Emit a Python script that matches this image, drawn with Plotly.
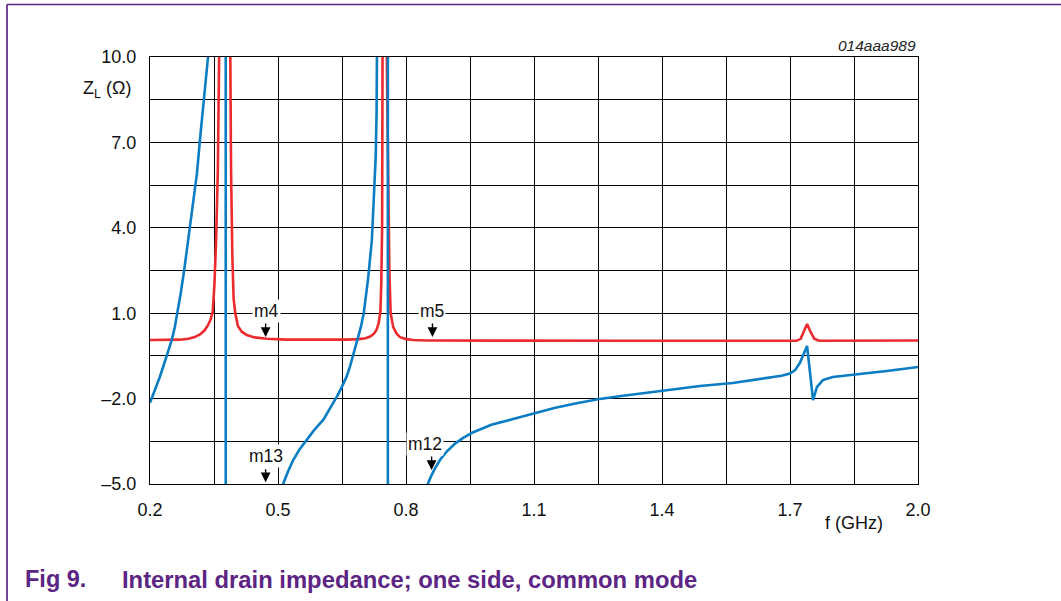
import plotly.graph_objects as go

# ---- data -----------------------------------------------------------------
# Frequency axis grid / tick labels (GHz)
x_grid = [0.2, 0.35, 0.5, 0.65, 0.8, 0.95, 1.1, 1.25, 1.4, 1.55, 1.7, 1.85, 2.0]
x_labels = ["0.2", "", "0.5", "", "0.8", "", "1.1", "", "1.4", "", "1.7", "", "2.0"]

# Impedance axis grid / tick labels (ohm)
y_grid = [-5.0, -3.5, -2.0, -0.5, 1.0, 2.5, 4.0, 5.5, 7.0, 8.5, 10.0]
y_labels = ["\u20135.0", "", "\u20132.0", "", "1.0", "", "4.0", "", "7.0", "", "10.0"]

# Real part of Z_L (red)
red_f = [0.200, 0.240, 0.270, 0.290, 0.305, 0.318, 0.328, 0.336, 0.342, 0.347,
         0.351, 0.355, 0.359, 0.362, 0.366, 0.375, 0.383, 0.3875, 0.390, 0.393,
         0.396, 0.400, 0.406, 0.415, 0.427, 0.445, 0.474, 0.520, 0.600, 0.660,
         0.690, 0.705, 0.716, 0.725, 0.731, 0.736, 0.740, 0.742, 0.744, 0.746,
         0.750, 0.753, 0.755, 0.758, 0.761, 0.764, 0.770, 0.778, 0.786, 0.800,
         0.817, 0.850, 1.000, 1.300, 1.600, 1.715, 1.725, 1.733, 1.740, 1.748,
         1.757, 1.768, 1.900, 2.000]
red_z = [0.06, 0.06, 0.07, 0.10, 0.16, 0.26, 0.40, 0.58, 0.78, 1.05,
         2.0, 3.6, 6.0, 10.0, 22.0, 60.0, 22.0, 10.0, 6.0, 3.0,
         1.5, 1.0, 0.55, 0.35, 0.23, 0.15, 0.10, 0.07, 0.06, 0.07,
         0.09, 0.12, 0.18, 0.28, 0.42, 0.65, 1.05, 2.0, 4.0, 10.0,
         40.0, 22.0, 10.0, 5.0, 2.5, 1.0, 0.51, 0.28, 0.16, 0.09,
         0.06, 0.04, 0.03, 0.03, 0.03, 0.03, 0.10, 0.35, 0.62, 0.35,
         0.10, 0.03, 0.03, 0.04]

# Imaginary part of Z_L (blue)
blue_f = [0.200, 0.212, 0.223, 0.237, 0.251, 0.258, 0.264, 0.272, 0.280, 0.290,
          0.301, 0.310, 0.317, 0.323, 0.328, 0.333, 0.336, 0.345, 0.360, 0.377,
          0.378, 0.400, 0.450, 0.490, 0.512, 0.523, 0.535, 0.550, 0.567, 0.585,
          0.606, 0.622, 0.638, 0.650, 0.661, 0.669, 0.676, 0.687, 0.694, 0.701,
          0.711, 0.720, 0.725, 0.729, 0.731, 0.733, 0.740, 0.750, 0.757, 0.758,
          0.780, 0.820, 0.845, 0.851, 0.858, 0.868, 0.880, 0.896, 0.915, 0.934,
          0.955, 0.973, 1.000, 1.051, 1.100, 1.150, 1.200, 1.250, 1.300, 1.350,
          1.400, 1.450, 1.489, 1.566, 1.646, 1.680, 1.700, 1.712, 1.723, 1.732,
          1.740, 1.747, 1.754, 1.763, 1.777, 1.800, 1.848, 1.927, 2.000]
blue_z = [-2.15, -1.70, -1.24, -0.60, 0.06, 0.50, 1.00, 1.70, 2.50, 3.60,
          4.73, 5.90, 7.08, 8.00, 8.80, 9.50, 10.0, 14.0, 30.0, 150.0,
          -150.0, -40.0, -12.0, -6.5, -5.00, -4.58, -4.18, -3.80, -3.45, -3.10,
          -2.75, -2.36, -1.93, -1.58, -1.22, -0.86, -0.50, 0.06, 0.50, 1.00,
          2.20, 3.57, 5.00, 6.50, 8.00, 10.0, 20.0, 50.0, 150.0, -150.0,
          -40.0, -10.0, -5.8, -5.00, -4.75, -4.45, -4.15, -3.85, -3.58, -3.38,
          -3.20, -3.08, -2.92, -2.72, -2.52, -2.32, -2.16, -2.02, -1.92, -1.82,
          -1.72, -1.64, -1.56, -1.45, -1.28, -1.20, -1.12, -1.00, -0.75, -0.45,
          -0.15, -1.10, -2.05, -1.60, -1.35, -1.24, -1.17, -1.03, -0.89]

# Marker labels: name, label position (f, Z), arrow tail Z, arrow tip (f, Z)
marker_names = ["m4", "m5", "m13", "m12"]
marker_label_f = [0.472, 0.862, 0.471, 0.845]
marker_label_z = [1.07, 1.07, -4.03, -3.59]
marker_arrow_f = [0.471, 0.862, 0.471, 0.860]
marker_tail_z = [0.69, 0.69, -4.43, -3.98]
marker_tip_z = [0.16, 0.16, -4.94, -4.51]

# ---- figure ---------------------------------------------------------------
W, H = 1061, 601
L, R, T, B = 150, 918, 57, 484          # plot area edges in pixels
FONT = "Arial, Liberation Sans, Helvetica, sans-serif"
PURPLE = "#5c2483"
RED = "#ec2b2e"
BLUE = "#0b7dc2"


def px_x(px):
    return (px - L) / (R - L)


def px_y(py):
    return (B - py) / (B - T)


fig = go.Figure()
fig.add_trace(go.Scatter(x=red_f, y=red_z, mode="lines",
                         line=dict(color=RED, width=2.6), hoverinfo="skip"))
fig.add_trace(go.Scatter(x=blue_f, y=blue_z, mode="lines",
                         line=dict(color=BLUE, width=2.6), hoverinfo="skip"))

axis_common = dict(showgrid=True, gridcolor="#000000", gridwidth=1,
                   showline=True, linecolor="#000000", linewidth=1, mirror=True,
                   zeroline=False, ticks="", tickfont=dict(family=FONT, size=18, color="#111"),
                   tickmode="array", ticklabelstandoff=9)

fig.update_xaxes(range=[0.2, 2.0], tickvals=x_grid, ticktext=x_labels, **axis_common)
fig.update_yaxes(range=[-5.0, 10.0], tickvals=y_grid, ticktext=y_labels, **axis_common)

annotations = []
for name, lf, lz in zip(marker_names, marker_label_f, marker_label_z):
    annotations.append(dict(x=lf, y=lz, xref="x", yref="y", text=name, showarrow=False,
                            bgcolor="white", borderpad=1,
                            font=dict(family=FONT, size=17.5, color="#111"),
                            xanchor="center", yanchor="middle"))
for af, tz, hz in zip(marker_arrow_f, marker_tail_z, marker_tip_z):
    annotations.append(dict(x=af, y=hz, ax=af, ay=tz, xref="x", yref="y",
                            axref="x", ayref="y", text="", showarrow=True,
                            arrowhead=2, arrowsize=1.4, arrowwidth=1.4,
                            arrowcolor="#000000", standoff=0))

annotations += [
    dict(x=px_x(107), y=px_y(90), xref="paper", yref="paper",
         text="Z<sub>L</sub> (\u03a9)", showarrow=False,
         font=dict(family=FONT, size=18, color="#111"), xanchor="center", yanchor="middle"),
    dict(x=px_x(854), y=px_y(523), xref="paper", yref="paper",
         text="f (GHz)", showarrow=False,
         font=dict(family=FONT, size=18, color="#111"), xanchor="center", yanchor="middle"),
    dict(x=1.0, y=px_y(46), xref="paper", yref="paper",
         text="<i>014aaa989</i>", showarrow=False,
         font=dict(family=FONT, size=15.5, color="#222"), xanchor="right", yanchor="middle"),
    dict(x=px_x(23), y=px_y(579), xref="paper", yref="paper",
         text="<b>Fig 9.</b>", showarrow=False,
         font=dict(family=FONT, size=23.5, color=PURPLE), xanchor="left", yanchor="middle"),
    dict(x=px_x(120), y=px_y(579), xref="paper", yref="paper",
         text="<b>Internal drain impedance; one side, common mode</b>", showarrow=False,
         font=dict(family=FONT, size=23.8, color=PURPLE), xanchor="left", yanchor="middle"),
]

# Figure frame: top and left rules
shapes = [
    dict(type="line", xref="paper", yref="paper", x0=px_x(7), x1=px_x(1061),
         y0=px_y(4.5), y1=px_y(4.5), line=dict(color=PURPLE, width=1.7)),
    dict(type="line", xref="paper", yref="paper", x0=px_x(7), x1=px_x(7),
         y0=px_y(4.5), y1=px_y(601), line=dict(color=PURPLE, width=1.7)),
]

fig.update_layout(width=W, height=H, autosize=False,
                  margin=dict(l=L, r=W - R, t=T, b=H - B),
                  paper_bgcolor="white", plot_bgcolor="white",
                  showlegend=False, annotations=annotations, shapes=shapes)

fig.write_html("out.html")
